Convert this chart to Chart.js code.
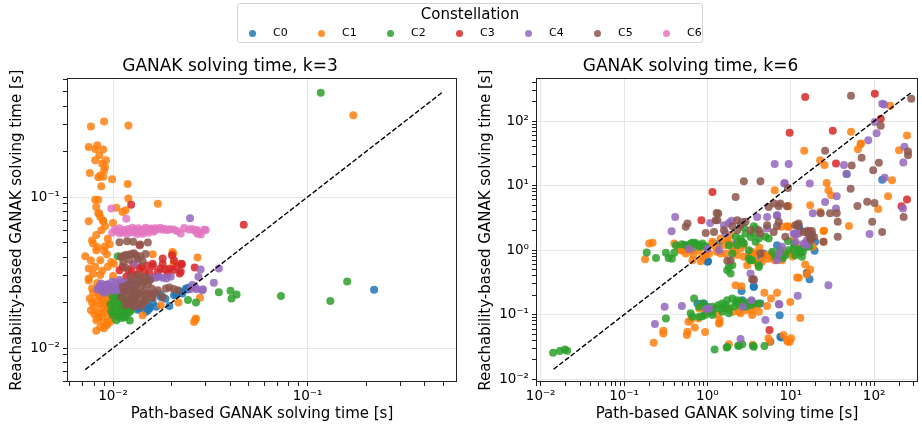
<!DOCTYPE html>
<html>
<head>
<meta charset="utf-8">
<script src="https://cdn.jsdelivr.net/npm/chart.js@4"></script>
<style>
  html, body { margin: 0; padding: 0; background: #fff; }
  body { width: 922px; height: 428px; position: relative; overflow: hidden; font-family: "DejaVu Sans", sans-serif; }
  .panel { position: absolute; top: 0; width: 461px; height: 428px; }
  #legend { position: absolute; left: 237px; top: 3px; width: 466px; height: 40px; box-sizing: border-box;
            border: 1px solid #d4d4d4; border-radius: 3px; background: #fff; z-index: 2; }
  #legend .ttl { position: absolute; left: 0; right: 0; top: 1px; text-align: center; font-size: 15px; line-height: 18px; }
  #legend .dot { position: absolute; width: 7px; height: 7px; border-radius: 50%; top: 26px; }
  #legend .lab { position: absolute; top: 22px; font-size: 11px; line-height: 14px; }
</style>
</head>
<body>
<div id="legend"><div class="ttl">Constellation</div></div>
<div class="panel" style="left:0"><canvas id="k3" width="461" height="428"></canvas></div>
<div class="panel" style="left:461px"><canvas id="k6" width="461" height="428"></canvas></div>
<script>
// series + colours (matplotlib tab10)
const series = ['C0', 'C1', 'C2', 'C3', 'C4', 'C5', 'C6'];
const colors = ['#1f77b4', '#ff7f0e', '#2ca02c', '#d62728', '#9467bd', '#8c564b', '#e377c2'];

// tick labels for the decades
const powers = [-2, -1, 0, 1, 2];
const powerLabels = ['10⁻²', '10⁻¹', '10⁰', '10¹', '10²'];

// ---- k=3 : [path time, reachability time] ----
const k3C0 = [[0.0134,0.0179],[0.0151,0.0178],[0.0148,0.0174],[0.0154,0.0188],[0.0176,0.0218],[0.0176,0.0226],
  [0.0195,0.019],[0.0206,0.0224],[0.0211,0.0226],[0.0227,0.023],[0.0237,0.0248],[0.0241,0.0244],[0.0246,0.0252],
  [0.0167,0.0188],[0.0142,0.0195],[0.0137,0.0183],[0.0154,0.0183],[0.0160,0.0200],[0.0186,0.0212],[0.0220,0.0238],
  [0.0125,0.0190],[0.22,0.0243]];
const k3C1 = [[0.0077,0.293],[0.0090,0.316],[0.0120,0.298],[0.0075,0.214],[0.0083,0.22],[0.0081,0.208],[0.0089,0.206],
  [0.0085,0.189],[0.0081,0.175],[0.0092,0.175],[0.0088,0.166],[0.0091,0.158],[0.0090,0.150],[0.0076,0.144],[0.0086,0.139],
  [0.0084,0.135],[0.0089,0.136],[0.0099,0.131],[0.0119,0.122],[0.0087,0.118],[0.0081,0.096],[0.0084,0.096],[0.0120,0.0976],
  [0.0082,0.0859],[0.0104,0.085],[0.0116,0.0817],[0.0112,0.0796],[0.0085,0.0777],[0.0086,0.0738],[0.0075,0.069],[0.0089,0.0691],
  [0.0100,0.0674],[0.0170,0.0904],[0.172,0.348],
  [0.0072,0.0406],[0.0075,0.0336],[0.0075,0.0289],[0.0079,0.0492],[0.0082,0.0445],[0.0087,0.0602],[0.0089,0.070],[0.0084,0.078],
  [0.0094,0.053],[0.0086,0.0382],[0.0081,0.0345],[0.0086,0.0304],[0.0096,0.0487],[0.0101,0.0362],[0.0091,0.0472],[0.0098,0.0372],
  [0.0078,0.0515],[0.0093,0.0418],[0.0100,0.0300],[0.0202,0.0433],[0.0204,0.0422],[0.0160,0.0418],[0.0272,0.0397],[0.0205,0.0365],
  [0.0083,0.0465],[0.0090,0.0440],[0.0077,0.0380],[0.0088,0.0325],[0.0079,0.0310],[0.0094,0.0345],[0.0082,0.0560],[0.0091,0.0640],
  [0.0078,0.0248],[0.0076,0.0213],[0.0080,0.0188],[0.0083,0.017],[0.0082,0.0153],[0.0086,0.0138],[0.0093,0.0142],[0.0090,0.0195],
  [0.0095,0.018],[0.0088,0.0165],[0.0097,0.0205],[0.0092,0.0215],[0.0085,0.022],[0.0094,0.016],[0.0099,0.0185],[0.0086,0.0198],
  [0.0077,0.0178],[0.0084,0.0226],[0.0091,0.0235],[0.0098,0.0238],[0.0089,0.0172],[0.0096,0.0148],[0.0082,0.013],[0.0090,0.0135],
  [0.0079,0.0232],[0.0087,0.0258],[0.0100,0.0165],[0.0093,0.0262],[0.0081,0.0205],[0.0095,0.0225],[0.0093,0.0146],[0.0075,0.028],
  [0.0080,0.0168],[0.0087,0.0182],[0.0092,0.0190],[0.0097,0.0172],[0.0084,0.0158],[0.0089,0.0150],[0.0078,0.0200],[0.0095,0.0200],
  [0.0087,0.0240],[0.0083,0.0270],[0.0098,0.0155],[0.0088,0.0210],
  [0.0142,0.0165],[0.0176,0.0192],[0.0217,0.020],[0.0280,0.0215],[0.0267,0.0157],[0.0261,0.0149],[0.0265,0.0154]];
const k3C2 = [[0.0098,0.0175],[0.0102,0.0185],[0.0105,0.0168],[0.0108,0.019],[0.0110,0.0178],[0.0113,0.0195],[0.0116,0.0172],
  [0.0119,0.0205],[0.0122,0.0185],[0.0101,0.0205],[0.0104,0.0215],[0.0107,0.0162],[0.0111,0.0158],[0.0114,0.021],[0.0125,0.0195],
  [0.0097,0.0195],[0.0103,0.0225],[0.0109,0.0232],[0.0117,0.0165],[0.0121,0.0172],[0.0104,0.0153],[0.0122,0.0152],[0.0106,0.0406],
  [0.0100,0.0165],[0.0106,0.0198],[0.0112,0.0218],[0.0118,0.0182],[0.0099,0.0222],[0.0115,0.0160],[0.0124,0.0178],[0.0108,0.0175],
  [0.0127,0.023],[0.0131,0.0215],[0.0148,0.0213],[0.0243,0.0208],[0.0267,0.020],[0.035,0.0234],[0.0402,0.024],[0.0432,0.0226],
  [0.0407,0.0213],[0.073,0.0221],[0.117,0.49],[0.131,0.0205],[0.160,0.0276]];
const k3C3 = [[0.0124,0.089],[0.047,0.0654],[0.0137,0.048],[0.018,0.0392],[0.0201,0.0411],[0.0206,0.038],[0.0226,0.0359],
  [0.0175,0.0335],[0.0185,0.0332],[0.0195,0.0335],[0.0263,0.0342],[0.016,0.0348],[0.0154,0.0314],[0.0166,0.0296],[0.0137,0.0336],
  [0.012,0.0328],[0.0127,0.0354],[0.0224,0.0362],[0.0203,0.0328],[0.022,0.0312],[0.0117,0.0296],[0.016,0.0362],[0.0108,0.0328],
  [0.0191,0.0312],[0.0223,0.032],[0.0145,0.0318],[0.0132,0.0305],[0.0112,0.0345],[0.0150,0.0352],[0.0170,0.0316],
  [0.0140,0.0345],[0.0125,0.0318],[0.0180,0.0360],[0.0212,0.0345]];
const k3C4 = [[0.0083,0.0245],[0.0086,0.026],[0.0088,0.0238],[0.0091,0.025],[0.0094,0.0265],[0.0097,0.024],[0.0100,0.0255],
  [0.0103,0.027],[0.0106,0.0245],[0.0109,0.026],[0.0112,0.0238],[0.0115,0.0268],[0.0118,0.025],[0.0121,0.0275],[0.0124,0.0258],
  [0.0127,0.0265],[0.0090,0.0232],[0.0099,0.0275],[0.0108,0.0282],[0.0085,0.0252],[0.0131,0.027],[0.0136,0.0278],[0.0142,0.028],
  [0.0150,0.0283],[0.0157,0.0289],[0.0165,0.0292],[0.0172,0.0296],[0.0180,0.0292],[0.0188,0.0289],[0.0198,0.0296],
  [0.0092,0.0262],[0.0096,0.0252],[0.0102,0.0240],[0.0110,0.0272],[0.0114,0.0252],[0.0087,0.0268],
  [0.0249,0.0723],[0.0256,0.0261],[0.0265,0.0252],[0.0288,0.0241],[0.0282,0.0331],[0.0275,0.0296],[0.035,0.0336],[0.033,0.0271],
  [0.025,0.0245],[0.027,0.0245],[0.029,0.0245],[0.0129,0.0365]];
const k3C5 = [[0.0108,0.0502],[0.0118,0.051],[0.0127,0.0505],[0.0138,0.0484],[0.0151,0.050],
  [0.011,0.040],[0.0118,0.0415],[0.0124,0.042],[0.0131,0.0412],[0.0138,0.0405],[0.0147,0.042],[0.0113,0.0372],[0.0121,0.0385],
  [0.0134,0.039],[0.0142,0.0375],[0.0116,0.034],[0.0128,0.0425],[0.0114,0.0410],
  [0.0110,0.0215],[0.0114,0.0235],[0.0118,0.0205],[0.0121,0.0225],[0.0124,0.0195],[0.0127,0.0245],[0.0130,0.0212],[0.0133,0.023],
  [0.0136,0.0198],[0.0139,0.0255],[0.0142,0.022],[0.0145,0.024],[0.0148,0.0205],[0.0151,0.0265],[0.0154,0.0228],[0.0158,0.0248],
  [0.0120,0.0265],[0.0126,0.028],[0.0132,0.0262],[0.0138,0.0285],[0.0144,0.0272],[0.0116,0.0192],[0.0128,0.0188],[0.0140,0.019],
  [0.0160,0.0215],[0.0123,0.0298],[0.0135,0.0305],[0.0147,0.0295],[0.0112,0.0255],[0.0155,0.0282],
  [0.0119,0.0240],[0.0125,0.0218],[0.0131,0.0240],[0.0137,0.0228],[0.0143,0.0200],[0.0129,0.0202],[0.0149,0.0230],[0.0122,0.0208],
  [0.0187,0.0248],[0.018,0.0218],[0.0215,0.0241],[0.0159,0.0224],[0.017,0.0241],[0.0195,0.0252],[0.0205,0.0246],[0.0165,0.0232]];
const k3C6 = [[0.0098,0.0838],[0.0117,0.0719],
  [0.0099,0.058],[0.0102,0.061],[0.0105,0.0595],[0.0108,0.062],[0.0111,0.0585],[0.0114,0.0605],[0.0117,0.059],[0.0120,0.0615],
  [0.0123,0.0598],[0.0126,0.0585],[0.0129,0.0608],[0.0132,0.0592],[0.0135,0.062],[0.0138,0.0602],[0.0141,0.0588],[0.0144,0.061],
  [0.0147,0.0625],[0.0150,0.0598],[0.0153,0.0612],[0.0157,0.0618],[0.0161,0.0605],[0.0165,0.062],[0.0170,0.0612],[0.0175,0.0625],
  [0.0180,0.0608],[0.0185,0.0615],[0.0190,0.0605],[0.0196,0.0612],[0.0205,0.061],[0.0213,0.0595],[0.0223,0.0573],[0.0232,0.0623],
  [0.0245,0.061],[0.0255,0.0615],[0.0263,0.0598],[0.0270,0.0605],[0.0283,0.0565],[0.0276,0.0585],[0.0294,0.0608],[0.030,0.0605],
  [0.0272,0.0572],[0.0108,0.0575],[0.0126,0.0625],[0.0142,0.0572],[0.0118,0.0570],[0.0133,0.0568],[0.0152,0.0580],[0.0162,0.0588]];

// ---- k=6 ----
const k6C0 = [[0.76,0.149],[0.91,0.149],[0.955,0.133],[2.5,0.133],[2.62,0.168],[3.14,0.149],[4.33,0.149],[7.36,0.0985],
  [7.5,0.0455],[5.7,0.038],[7.7,0.0445],[2.57,0.234],[3.6,0.27],[3.6,0.277],
  [0.5,1.0],[0.577,1.06],[0.662,1.0],[1.02,0.676],[1.0,0.66],[0.527,1.19],[1.38,1.27],[2.2,1.27],[6.84,1.19],[4.7,0.89],
  [4.33,0.74],[7.36,0.94],[13,2.04],[19.6,1.35],[19.3,0.977],[15.6,0.446],[16.8,0.356],[15.6,0.436],[12.6,2.3],
  [46.8,15.2],[125,12.4]];
const k6C1 = [[0.227,0.0368],[0.296,0.0564],[0.296,0.051],[0.567,0.0483],[0.577,0.0544],[0.593,0.0778],[0.632,0.0825],
  [0.706,0.0635],[0.938,0.0538],[1.4,0.0825],[1.4,0.075],[1.81,0.035],[3.5,0.0342],[5.4,0.043],[5.6,0.038],[8.2,0.0483],
  [9.0,0.0404],[10.1,0.043],[9.2,0.038],[9.7,0.038],[2.18,0.287],[2.57,0.277],[4.83,0.219],[5.8,0.179],[6.84,0.219],[9.87,0.158],
  [13,0.0886],[12.5,0.373],[14.9,0.6],[17.1,0.502],[15.6,0.425],[11.9,0.377],[0.796,0.125],[0.938,0.111],[1.15,0.118],[1.32,0.102],
  [1.38,0.073],[0.78,0.0875],[2.92,0.118],[3.44,0.133],[4.14,0.111],[2.5,0.105],[3.44,0.0986],[2.02,0.111],[3.44,0.117],
  [3.95,0.141],[5.2,0.137],[2.39,0.111],[2.39,0.141],[1.73,0.125],
  [0.179,0.726],[0.2,1.27],[0.22,1.3],[0.4,1.27],[0.45,1.13],[0.494,1.0],[0.55,1.0],[0.632,1.13],[0.68,0.857],[0.83,0.676],
  [0.955,0.84],[1.15,1.35],[1.44,1.52],[1.81,1.3],[2.39,1.27],[3.14,0.837],[3.78,0.888],[5.2,0.84],[6.42,0.7],[7.85,0.7],
  [9.7,0.888],[11.9,1.24],[1.73,1.43],[1.9,1.71],[2.5,1.06],[2.74,0.79],[3.0,0.586],[2.08,0.94],[2.28,0.84],[1.65,0.89],
  [1.44,0.89],[1.26,1.13],[1.05,0.89],[1.15,1.27],[0.795,1.0],[0.87,0.79],[0.662,0.70],[0.55,0.89],[0.48,1.0],[4.7,0.84],
  [5.4,0.74],[5.97,0.89],[4.53,0.66],[3.78,0.89],[3.6,0.70],[9.4,2.3],[12.4,1.81],[15.6,1.92],[24.7,1.99],[24.7,1.35],
  [7.7,2.3],[9.0,2.35],[10.8,1.43],[11.3,1.13],[18.4,1.13],[25.1,2.0],[9.27,2.3],
  [2.0,1.05],[2.7,1.2],[3.4,0.95],[4.2,1.1],[6.0,0.78],[8.5,0.92],[10.5,0.8],[1.3,0.95],[1.6,1.2],[4.0,0.62],
  [52.8,68.7],[68.8,43.7],[64,36.6],[14.5,34.9],[199,35.3],[22.5,24.7],[25.4,20.9],[27,11],[28.3,8.5],[6.42,8.49],[30.5,7.1],
  [9.26,4.86],[17.1,4.97],[49.9,2.38],[112,4.36],[164,12.1],[156,173],[248,60],[147,6.86],[22.6,3.9],[9.4,4.8],[69.5,44.9]];
const k6C2 = [[0.0141,0.0258],[0.017,0.0273],[0.0195,0.029],[0.0208,0.0277],
  [0.318,0.0875],[0.693,0.179],[0.87,0.149],[1.15,0.133],[1.51,0.149],[1.73,0.168],[1.99,0.179],[2.28,0.168],[2.62,0.149],
  [2.87,0.133],[3.29,0.141],[3.6,0.149],[4.14,0.149],[2.08,0.133],[1.81,0.125],[1.51,0.125],[1.26,0.125],[1.0,0.133],
  [0.796,0.133],[0.662,0.093],[0.796,0.093],[0.87,0.095],[1.15,0.0986],[1.51,0.111],[1.81,0.105],[0.63,0.105],[2.2,0.155],
  [2.5,0.16],[3.0,0.155],[1.22,0.029],[1.7,0.0311],[1.73,0.0316],[2.34,0.033],[2.39,0.033],[2.62,0.0347],[3.54,0.0327],
  [3.6,0.0319],[4.83,0.0327],[1.35,0.14],[1.65,0.14],[2.4,0.145],[3.4,0.16],[0.95,0.1],[1.1,0.11],
  [0.187,0.92],[0.242,0.76],[0.318,0.91],[0.343,0.76],[0.375,0.74],[0.4,0.91],[0.55,1.19],[0.632,1.27],[0.71,1.3],[0.795,1.19],
  [0.87,1.27],[0.955,1.13],[0.419,1.19],[0.494,1.24],[0.662,1.3],[0.726,1.24],[0.81,1.13],[0.94,1.15],[4.14,0.586],[3.29,0.70],
  [3.14,1.0],[3.78,1.35],[3.6,1.81],[2.87,1.81],[3.78,2.16],[3.6,2.35],[2.74,2.24],[2.18,1.61],[2.28,1.19],[2.74,1.27],
  [1.81,1.19],[1.99,0.89],[1.81,0.552],[1.9,0.435],[1.73,0.49],[1.99,0.586],[3.14,0.743],[3.44,0.7],[4.14,0.55],[2.62,1.35],
  [4.14,1.52],[4.97,1.61],[5.44,1.52],[7.5,1.0],[9.4,1.0],[10.8,1.06],[12.4,1.02],[13.6,1.06],[15.6,1.13],[8.6,0.837],
  [11.3,0.837],[13.6,0.788],[16.6,1.15],[9.27,1.39],[6.0,0.95],[7.2,0.85],[8.0,0.75],[6.5,0.8],[11,1.25],[14,0.95],[12.8,0.9],
  [3.3,1.6],[2.5,1.5]];
const k6C3 = [[14.9,236],[102,266],[120,109],[9.7,66],[31.9,71],[34.9,22],[1.15,8.0],[0.848,2.91],[248,6.09],[213,4.8],
  [5.55,0.0578]];
const k6C4 = [[125,186],[132,182],[102,97],[107,64.7],[85,50.5],[231,40.2],[6.42,21.7],[9.43,21.7],[43.5,20.9],[224,22.8],
  [46.8,15.2],[134,13.3],[8.37,10.8],[16.9,10.8],[8.45,11],[35.6,6.86],[6.84,3.44],[25.8,5.6],[18.4,3.74],[34.9,4.42],[222,4.42],
  [88.1,1.79],[0.411,3.28],[0.372,1.97],[1.08,2.65],[1.81,2.65],[1.95,2.85],[1.58,2.44],[3.95,3.28],[5.2,3.28],[6.84,3.48],
  [5.2,2.16],[11.3,1.81],[14.3,1.27],[15.6,1.19],[7.85,1.13],[7.2,0.89],[6.84,0.70],[3.29,0.435],[3.6,0.343],[28.3,0.287],
  [12.1,0.196],[7.3,0.144],[7.17,0.146],[4.97,0.0825],[2.5,0.0419],[0.307,0.133],[0.494,0.137],[0.235,0.0715],[0.97,0.123],
  [1.05,0.125],[3.38,0.168],[2.66,0.133],[1.38,1.0],[1.65,1.81],[2.62,2.75],[10.8,1.81],[15.6,1.43],[15.2,1.27],[11.4,1.77],
  [11.4,1.35],[1.0,1.05],[0.6,1.05],[12.2,1.81]];
const k6C5 = [[52.8,248],[279,223],[120,85],[25.8,34.9],[255,34],[255,29.5],[70.8,27.2],[53.8,20.5],[97.5,17.3],[114,22.7],
  [2.74,11.7],[4.33,11.7],[2.18,6.69],[9.26,9.23],[6.3,5.28],[7.5,5.28],[5.44,4.69],[22.9,3.74],[29.6,3.74],[35.6,3.74],
  [36.6,2.75],[36.6,1.61],[63.1,4.86],[82.6,5.66],[101,5.4],[226,3.28],[94.8,2.75],[125,1.92],[52.3,9.0],[24.7,1.35],
  [16.5,1.9],[18,1.75],[17,1.55],[19,1.6],[17.5,1.45],[16,2.0],[12.4,2.59],[12.2,2.4],[0.55,2.3],[0.577,2.59],[1.32,2.91],
  [1.35,3.7],[1.2,1.92],[1.99,2.35],[2.5,2.44],[2.28,2.04],[2.87,2.75],[7.17,4.8],[9.0,4.8],[4.14,2.04],[5.2,2.44],[6.84,2.35],
  [8.6,1.61],[11.9,2.44],[4.33,0.89],[3.6,0.356],[1.73,0.684],[3.44,0.351],[0.955,1.85],[1.26,2.91],[1.58,2.04],[2.28,2.91],
  [3.29,2.04],[4.33,1.81],[6.25,1.92],[7.17,2.75],[11.3,2.44],[14.3,1.92],[16.3,1.81],[17.9,1.99],[1.29,3.78],[1.9,0.7]];
const k6C6 = [];

// y = x reference line ends
const diagK3 = [0.0072, 0.49];
const diagK6 = [0.0143, 280];

Chart.defaults.font.family = '"DejaVu Sans", sans-serif';
Chart.defaults.color = '#000';

function fmt(v) {
  const e = Math.round(Math.log10(v));
  if (Math.abs(v / Math.pow(10, e) - 1) > 1e-6) return '';
  const i = powers.indexOf(e);
  return i < 0 ? '' : powerLabels[i];
}

function logTicks(scale) {
  const ticks = [];
  for (let e = Math.floor(Math.log10(scale.min)); e <= Math.ceil(Math.log10(scale.max)); e++) {
    for (let k = 1; k < 10; k++) {
      const v = parseFloat((k * Math.pow(10, e)).toPrecision(8));
      if (v >= scale.min && v <= scale.max) ticks.push({ value: v, major: k === 1 });
    }
  }
  scale.ticks = ticks;
}

// black box round the plot area
const frame = {
  id: 'frame',
  afterDraw(chart) {
    const a = chart.chartArea, c = chart.ctx;
    c.save();
    c.strokeStyle = '#222';
    c.lineWidth = 1;
    c.strokeRect(Math.round(a.left) + 0.5, Math.round(a.top) + 0.5, Math.round(a.right - a.left) - 1, Math.round(a.bottom - a.top) - 1);
    c.restore();
  }
};

const gridColor = c => (c.tick && c.tick.major) ? '#e6e6e6' : 'rgba(0,0,0,0)';

function makeChart(id, title, data, diag, xLim, yLim, yWidth, yTitlePad, padRight) {
  const sets = data.map((pts, i) => ({
    label: series[i],
    data: pts.map(p => ({ x: p[0], y: p[1] })),
    backgroundColor: colors[i] + 'd9',
    borderWidth: 0,
    pointRadius: 4,
    pointHoverRadius: 4,
    order: 7 - i
  }));
  sets.push({
    label: 'y=x',
    data: diag.map(v => ({ x: v, y: v })),
    showLine: true,
    borderColor: '#000',
    borderWidth: 1.4,
    borderDash: [5, 2.2],
    pointRadius: 0,
    order: 0
  });
  return new Chart(document.getElementById(id), {
    type: 'scatter',
    data: { datasets: sets },
    plugins: [frame],
    options: {
      responsive: false,
      animation: false,
      events: [],
      layout: { padding: { top: 56, left: 0, right: padRight, bottom: 0 } },
      plugins: {
        legend: { display: false },
        tooltip: { enabled: false },
        title: { display: true, text: title, color: '#000', font: { size: 17, weight: 'normal' }, padding: { top: 0, bottom: 2 } }
      },
      scales: {
        x: {
          type: 'logarithmic', min: xLim[0], max: xLim[1],
          afterBuildTicks: logTicks,
          afterFit: s => { s.height = 46; },
          border: { display: false },
          grid: { color: gridColor, tickColor: '#222', tickLength: 4 },
          ticks: { callback: fmt, autoSkip: false, maxRotation: 0, minRotation: 0, padding: 2, color: '#000', font: { size: 13.5 } },
          title: { display: true, text: 'Path-based GANAK solving time [s]', color: '#000', font: { size: 15 }, padding: { top: 2, bottom: 5 } }
        },
        y: {
          type: 'logarithmic', min: yLim[0], max: yLim[1],
          afterBuildTicks: logTicks,
          afterFit: s => { s.width = yWidth; },
          border: { display: false },
          grid: { color: gridColor, tickColor: '#222', tickLength: 4 },
          ticks: { callback: fmt, autoSkip: false, padding: 3, color: '#000', font: { size: 13.5 } },
          title: { display: true, text: 'Reachability-based GANAK solving time [s]', color: '#000', font: { size: 15 }, padding: { top: yTitlePad, bottom: 2 } }
        }
      }
    }
  });
}

makeChart('k3', 'GANAK solving time, k=3', [k3C0, k3C1, k3C2, k3C3, k3C4, k3C5, k3C6], diagK3,
  [0.0058, 0.587], [0.00596, 0.61], 67, 8, 1);
makeChart('k6', 'GANAK solving time, k=6', [k6C0, k6C1, k6C2, k6C3, k6C4, k6C5, k6C6], diagK6,
  [0.00879, 336], [0.00906, 460], 75, 16.5, 2);

// shared legend
const leg = document.getElementById('legend');
series.forEach((name, i) => {
  const d = document.createElement('div');
  d.className = 'dot';
  d.style.left = (11 + 69 * i) + 'px';
  d.style.background = colors[i] + 'd9';
  leg.appendChild(d);
  const t = document.createElement('div');
  t.className = 'lab';
  t.style.left = (35 + 69 * i) + 'px';
  t.textContent = name;
  leg.appendChild(t);
});
</script>
</body>
</html>
